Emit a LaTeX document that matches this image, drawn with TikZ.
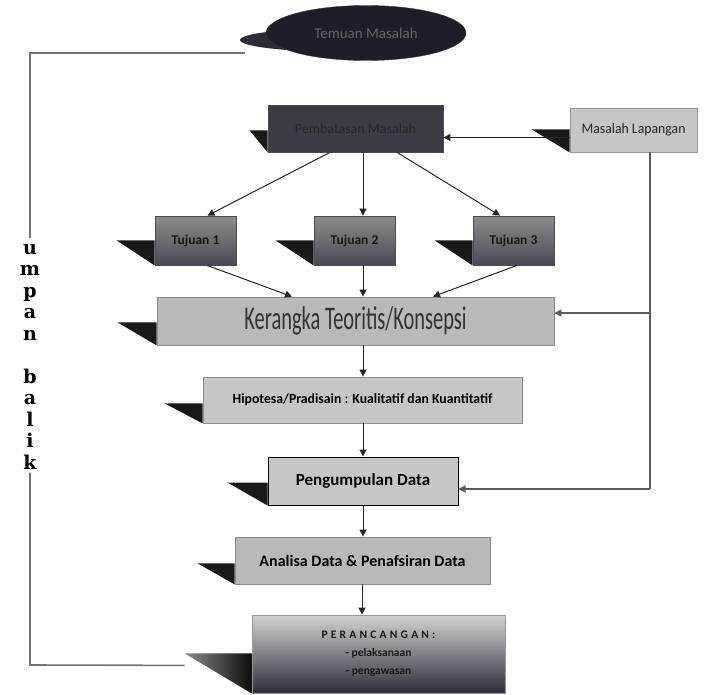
\documentclass[tikz,border=0pt]{standalone}
\usepackage{fontspec}
\setmainfont{Carlito}
\newfontfamily\slabfont{DejaVu Serif}
\usepackage{graphicx}
\usetikzlibrary{arrows.meta,shapes.geometric}
\definecolor{ellc}{HTML}{1E1E28}
\definecolor{ellsh}{HTML}{2C2C34}
\definecolor{pembc}{HTML}{3C3C45}
\definecolor{lightc}{HTML}{C6C6C6}
\definecolor{kerc}{HTML}{B9B9B9}
\definecolor{tujtop}{HTML}{8C8C8C}
\definecolor{tujbot}{HTML}{4A4A55}
\definecolor{pertop}{HTML}{D2D2D2}
\definecolor{perbot}{HTML}{2E2E3A}
\definecolor{linec}{HTML}{5A5A5A}
\newcommand\boxshadow[3]{\fill[black!90] ([xshift=-#2pt,yshift=#3pt]#1.south west) -- ([yshift=#3pt]#1.south west) -- (#1.south west) -- cycle;}
\begin{document}
\begin{tikzpicture}[x=1pt,y=-1pt,
  box/.style={draw=black!70, line width=0.8pt, inner sep=0pt, align=center},
  arr/.style={draw=black!85, line width=1pt, -{Triangle[length=7pt,width=7pt]}},
  ln/.style={draw=linec, line width=1.2pt},
  fb/.style={draw=black!55, line width=1.6pt}]
\useasboundingbox[fill=white] (0,0) rectangle (706,695);

% top ellipse
\fill[ellsh] (345,40) ellipse [x radius=105pt, y radius=12pt];
\node[ellipse, draw=black!80, fill=ellc, minimum width=200pt, minimum height=55pt, inner sep=0pt,
  font=\fontsize{15}{16}\selectfont, text=black!60] (temu) at (366,33) {Temuan Masalah};

% boxes
\node[box, fill=pembc, minimum width=175pt, minimum height=47pt, font=\fontsize{14}{15}\selectfont, text=black!85] (pemb) at (355.5,128.5) {Pembatasan Masalah};
\node[box, fill=lightc, draw=black!40, minimum width=127pt, minimum height=44pt, font=\fontsize{14.5}{15}\selectfont, text=black!85] (ml) at (633.5,130) {\scalebox{0.95}[1]{Masalah Lapangan}};

\node[box, top color=tujtop, bottom color=tujbot, minimum width=81pt, minimum height=49pt, font=\fontsize{13.5}{15}\selectfont\bfseries, text=black!90] (t1) at (195.5,240.5) {Tujuan 1};
\node[box, top color=tujtop, bottom color=tujbot, minimum width=81pt, minimum height=49pt, font=\fontsize{13.5}{15}\selectfont\bfseries, text=black!90] (t2) at (354.5,240.5) {Tujuan 2};
\node[box, top color=tujtop, bottom color=tujbot, minimum width=81pt, minimum height=49pt, font=\fontsize{13.5}{15}\selectfont\bfseries, text=black!90] (t3) at (513.5,240.5) {Tujuan 3};

\node[box, fill=kerc, draw=black!45, minimum width=397pt, minimum height=48pt, text=black!80] (ker) at (355.5,321) {\fontsize{33}{33}\selectfont\scalebox{0.62}[1]{Kerangka Teoritis/Konsepsi}};

\node[box, fill=lightc, draw=black!45, minimum width=319pt, minimum height=46pt] (hip) at (362.5,400) {\fontsize{14}{15}\selectfont\bfseries\scalebox{0.98}[1]{Hipotesa/Pradisain : Kualitatif dan Kuantitatif}};

\node[box, fill=lightc, draw=black, line width=1pt, minimum width=190pt, minimum height=48pt] (peng) at (363,481) {\fontsize{17}{18}\selectfont\bfseries Pengumpulan Data};

\node[box, fill=kerc, draw=black!45, minimum width=255pt, minimum height=47pt] (ana) at (362.5,560.5) {\fontsize{16}{17}\selectfont\bfseries Analisa Data \& Penafsiran Data};

\node[box, top color=pertop, bottom color=perbot, draw=black!40, minimum width=253pt, minimum height=78pt, font=\fontsize{11.5}{18}\selectfont\bfseries, text=black!90] (per) at (378.5,654)
  {{\addfontfeature{LetterSpace=28}PERANCANGAN:}\\- pelaksanaan\\- pengawasan};

% shadows
\boxshadow{pemb}{18}{22}
\boxshadow{ml}{38}{23}
\boxshadow{t1}{38}{25}
\boxshadow{t2}{38}{25}
\boxshadow{t3}{38}{25}
\boxshadow{ker}{39}{23}
\boxshadow{hip}{38}{20}
\boxshadow{peng}{40}{23}
\boxshadow{ana}{37}{21}
\shade[left color=black!45, right color=black!95] ([xshift=-67pt,yshift=40pt]per.south west) -- ([yshift=40pt]per.south west) -- (per.south west) -- cycle;

% arrows
\draw[arr] ([xshift=-25.5pt]pemb.south) -- ([xshift=12pt]t1.north);
\draw[arr] ([xshift=7.5pt]pemb.south) -- ([xshift=8.5pt]t2.north);
\draw[arr] ([xshift=41.5pt]pemb.south) -- ([xshift=-13.5pt]t3.north);
\draw[arr] ([xshift=11.5pt]t1.south) -- ([xshift=-63.5pt]ker.north);
\draw[arr] ([xshift=8.5pt]t2.south) -- ([xshift=7.5pt]ker.north);
\draw[arr] ([xshift=3.5pt]t3.south) -- ([xshift=77.5pt]ker.north);
\draw[arr] ([xshift=7.5pt]ker.south) -- ([xshift=0.5pt]hip.north);
\draw[arr] ([xshift=0.5pt]hip.south) -- (peng.north);
\draw[arr] (peng.south) -- ([xshift=0.5pt]ana.north);
\draw[arr] ([xshift=-0.5pt]ana.south) -- ([xshift=-16.5pt]per.north);

% Masalah Lapangan connections
\draw[arr] ([yshift=-7.5pt]ml.west) -- ([yshift=-9pt]pemb.east);
\coordinate (mlb) at ([xshift=16.5pt]ml.south);
\coordinate (ke) at ([yshift=8pt]ker.east);
\coordinate (pe) at ([yshift=-8pt]peng.east);
\draw[ln] (mlb) -- (mlb |- pe);
\draw[ln, -{Triangle[length=7pt,width=7pt]}] (mlb |- pe) -- (pe);
\draw[ln, -{Triangle[length=7pt,width=7pt]}] (mlb |- ke) -- (ke);

% feedback
\node[font=\slabfont\bfseries\fontsize{19}{21.5}\selectfont, align=center, inner sep=0pt] (ub) at (30,357)
  {u\\m\\p\\a\\n\\\mbox{}\\b\\a\\l\\i\\k};
\coordinate (fbtop) at (30,53);
\coordinate (fbbot) at (30,665);
\draw[fb] ([xshift=-67pt,yshift=28pt]per.south west) -- (fbbot) -- ([yshift=-3pt]ub.south);
\draw[fb] ([yshift=6pt]ub.north) -- (fbtop) -- (245,53);
\end{tikzpicture}
\end{document}
